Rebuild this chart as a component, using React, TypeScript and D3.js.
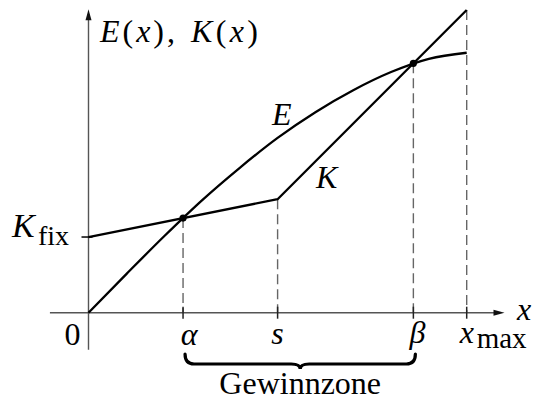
import React from 'react';
import * as d3 from 'd3';

const W = 541;
const H = 401;

// x positions (data units)
const xMax = 10;
const alpha = 2.5;
const sBreak = 5;
const beta = 8.59;

// cost function K (piecewise linear)
const kX = [0, 5, 10];
const kY = [2, 3, 8];

// revenue function E
const eX = [0, 1, 2, 3, 4, 5, 6, 7, 8, 9, 10];
const eY = [0, 1.02, 2.02, 2.97, 3.83, 4.62, 5.3, 5.88, 6.36, 6.71, 6.87];

const dropValues = [alpha, sBreak, beta, xMax];
const FONT = '"Liberation Serif"';

export default function App() {
  const x = d3.scaleLinear().domain([0, 10]).range([88.5, 466.7]);
  const y = d3.scaleLinear().domain([0, 8]).range([312.7, 10]);
  const kAt = d3.scaleLinear().domain(kX).range(kY);

  const line = d3
    .line<[number, number]>()
    .x((d) => x(d[0]))
    .y((d) => y(d[1]));
  const eLine = d3
    .line<[number, number]>()
    .x((d) => x(d[0]))
    .y((d) => y(d[1]))
    .curve(d3.curveMonotoneX);

  const kPts = kX.map((v, i) => [v, kY[i]] as [number, number]);
  const ePts = eX.map((v, i) => [v, eY[i]] as [number, number]);

  const x0 = x(0);
  const y0 = y(0);
  const xAxisStart = x(-1.02);
  const xAxisTip = x(11.0);
  const yAxisStart = y(-0.98);
  const yAxisTip = y(8.02);
  const axisColor = '#555';

  // brace
  const bx1 = x(alpha) + 2;
  const bx2 = x(beta) + 2;
  const bm = (bx1 + bx2) / 2;
  const by0 = 354;
  const by1 = 364;
  const by2 = 369;
  const r = 9;
  const brace = `M${bx1},${by0} Q${bx1},${by1} ${bx1 + r},${by1} L${bm - r},${by1} Q${bm},${by1} ${bm},${by2} Q${bm},${by1} ${bm + r},${by1} L${bx2 - r},${by1} Q${bx2},${by1} ${bx2},${by0}`;

  const ts = { fontFamily: FONT, fontSize: 32 };
  const tsi = { fontFamily: FONT, fontSize: 32, fontStyle: 'italic' as const };

  return (
    <svg width={W} height={H} style={{ position: 'absolute', left: 0, top: 0, background: '#fff' }}>
      <rect x={0} y={0} width={W} height={H} fill="#fff" />
      {/* dashed drop lines */}
      {dropValues.map((v, i) => (
        <line
          key={i}
          x1={x(v)}
          x2={x(v)}
          y1={y(kAt(v))}
          y2={y0}
          stroke="#666"
          strokeWidth={1.4}
          strokeDasharray="10,5"
        />
      ))}
      {/* axes */}
      <line x1={xAxisStart} x2={xAxisTip - 8} y1={y0} y2={y0} stroke={axisColor} strokeWidth={1.4} />
      <path d={`M${xAxisTip},${y0} L${xAxisTip - 11},${y0 - 3} L${xAxisTip - 11},${y0 + 3} Z`} fill="#111" />
      <line x1={x0} x2={x0} y1={yAxisStart} y2={yAxisTip + 8} stroke={axisColor} strokeWidth={1.4} />
      <path d={`M${x0},${yAxisTip} L${x0 - 3},${yAxisTip + 11} L${x0 + 3},${yAxisTip + 11} Z`} fill="#111" />
      {/* x ticks */}
      {dropValues.map((v, i) => (
        <line key={'t' + i} x1={x(v)} x2={x(v)} y1={y0 - 6} y2={y0 + 6} stroke="#222" strokeWidth={1.5} />
      ))}
      {/* K_fix tick */}
      <line x1={x0 - 7} x2={x0 + 4} y1={y(kY[0])} y2={y(kY[0])} stroke="#111" strokeWidth={1.6} />
      {/* curves */}
      <path d={line(kPts) || ''} fill="none" stroke="#000" strokeWidth={2.3} strokeLinejoin="round" />
      <path d={eLine(ePts) || ''} fill="none" stroke="#000" strokeWidth={2.3} />
      {/* intersection points */}
      {[alpha, beta].map((v, i) => (
        <circle key={'c' + i} cx={x(v)} cy={y(kAt(v))} r={3.6} fill="#000" />
      ))}
      {/* brace */}
      <path d={brace} fill="none" stroke="#000" strokeWidth={3.2} strokeLinecap="round" />

      {/* labels */}
      <text style={ts} x={x0 - 8} y={345} textAnchor="end">0</text>
      <text style={tsi} x={x(alpha) + 6} y={345} textAnchor="middle">α</text>
      <text style={tsi} x={x(sBreak)} y={344} textAnchor="middle">s</text>
      <text style={tsi} x={x(beta) + 4} y={343} textAnchor="middle">β</text>
      <text style={tsi} x={x(xMax) - 7} y={343}>x</text>
      <text style={{ ...ts, fontSize: 29 }} x={x(xMax) + 10} y={348}>max</text>
      <text style={tsi} x={517} y={320}>x</text>
      <text style={ts} x={100} y={42} textLength={75} lengthAdjust="spacing">
        <tspan style={tsi}>E</tspan>(<tspan style={tsi}>x</tspan>),
      </text>
      <text style={ts} x={191} y={42} textLength={67} lengthAdjust="spacing">
        <tspan style={tsi}>K</tspan>(<tspan style={tsi}>x</tspan>)
      </text>
      <text style={{ ...tsi, fontSize: 34 }} x={12} y={237}>K</text>
      <text style={{ ...ts, fontSize: 28 }} x={38} y={245}>fix</text>
      <text style={tsi} x={272} y={125}>E</text>
      <text style={tsi} x={316} y={188}>K</text>
      <text style={ts} x={bm} y={394} textAnchor="middle">Gewinnzone</text>
    </svg>
  );
}
